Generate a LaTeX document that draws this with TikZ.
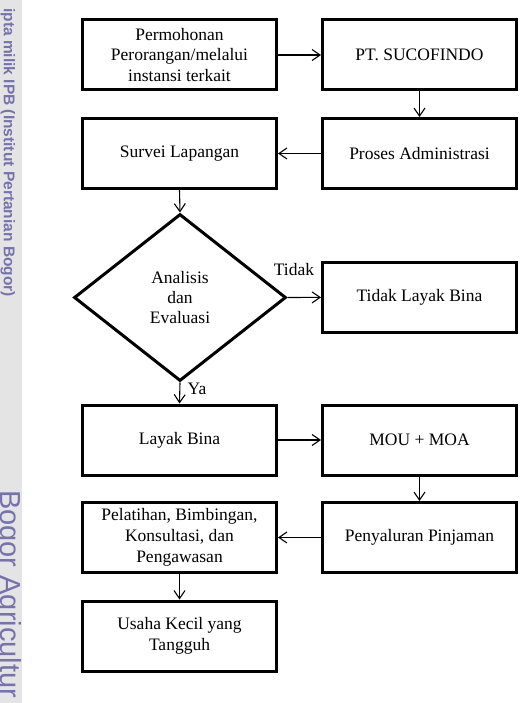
\documentclass[tikz,border=0pt]{standalone}
\usepackage{fontspec}
\setmainfont{Liberation Serif}
\newfontfamily\wmfont{Liberation Sans}
\usetikzlibrary{arrows.meta,shapes.geometric}
\definecolor{wmgray}{HTML}{E4E4E4}
\definecolor{wmtext}{HTML}{7572AE}
\tikzset{
  box/.style={draw=black, line width=3pt, minimum width=194pt, minimum height=70pt,
    align=center, inner sep=2pt, font=\fontsize{17.5}{20.8}\selectfont},
  decision/.style={draw=black, line width=3pt, diamond, minimum width=212pt, minimum height=167pt,
    aspect=1.27, align=center, inner sep=0pt, font=\fontsize{17.5}{20.3}\selectfont},
  flow/.style={line width=1.1pt, -{Straight Barb[length=8pt,width=11pt,line width=1.1pt]}},
  lbl/.style={font=\fontsize{17.5}{20.5}\selectfont, inner sep=0pt}
}
\begin{document}
\begin{tikzpicture}[x=1pt,y=-1pt]
\useasboundingbox (0,0) rectangle (527,703);
% watermark strip
\fill[wmgray] (0,0) rectangle (22,703);
\node[rotate=-90, anchor=base east, text=wmtext, inner sep=0pt,
  font=\wmfont\bfseries\fontsize{15.5}{18}\selectfont] (wm1) at (4,297)
  {ipta milik IPB (Institut Pertanian Bogor)};
\node[rotate=-90, anchor=base west, text=wmtext, inner sep=0pt,
  font=\wmfont\fontsize{29}{34}\selectfont] (wm2) at (1,490)
  {Bogor Agricultur};
% boxes
\node[box] (perm) at (179.5,55) {Permohonan\\Perorangan/melalui\\instansi terkait};
\node[box] (pt) at (419.5,55) {PT. SUCOFINDO};
\node[box] (surv) at (179.5,153.5) {Survei Lapangan};
\node[box] (adm) at (419.5,153.5) {Proses Administrasi};
\node[decision] (ana) at (180,297.5) {Analisis\\dan\\Evaluasi};
\node[box] (tlb) at (419.5,297) {Tidak Layak Bina};
\node[box] (lb) at (179.5,440) {Layak Bina};
\node[box] (mou) at (419.5,440) {MOU + MOA};
\node[box] (pel) at (179.5,537.5) {Pelatihan, Bimbingan,\\Konsultasi, dan\\Pengawasan};
\node[box] (pen) at (419.5,537.5) {Penyaluran Pinjaman};
\node[box] (usa) at (179.5,636) {Usaha Kecil yang\\Tangguh};
% connectors
\draw[flow] (perm) -- (pt);
\draw[flow] (pt) -- (adm);
\draw[flow] (adm) -- (surv);
\draw[flow] (surv.south) -- (ana.north);
\draw[flow] (ana.east) -- (tlb);
\draw[flow] (ana.south) -- (lb.north);
\draw[flow] (lb) -- (mou);
\draw[flow] (mou) -- (pen);
\draw[flow] (pen) -- (pel);
\draw[flow] (pel) -- (usa);
% labels
\node[lbl] (tidak) at (294,270) {Tidak};
\node[lbl] (ya) at (197,389) {Ya};
\end{tikzpicture}
\end{document}
